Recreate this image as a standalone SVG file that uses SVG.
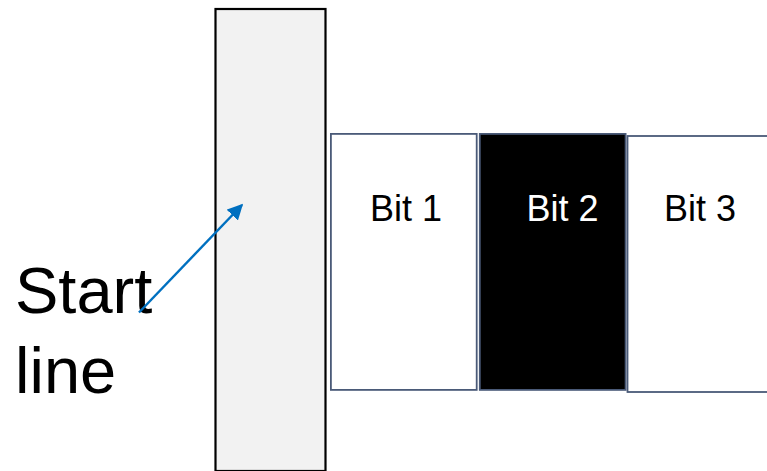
<svg xmlns="http://www.w3.org/2000/svg" width="767" height="471" viewBox="0 0 767 471">
<defs>
<style>
.bit{stroke:#4a5a78;stroke-width:1.8}
.lbl{font-family:"Liberation Sans",Arial,sans-serif;font-size:36px}
.big{font-family:"Liberation Sans",Arial,sans-serif;font-size:65px;fill:#000}
</style>
<marker id="ah" viewBox="0 0 10 10" refX="9" refY="5" markerWidth="6.5" markerHeight="6.5" orient="auto" markerUnits="strokeWidth">
<path d="M0,0 L10,5 L0,10 z" fill="#0070C0"/>
</marker>
</defs>
<rect width="767" height="471" fill="#fff"/>
<g id="startbar"><rect x="215.5" y="9" width="110" height="462" fill="#f2f2f2" stroke="#000" stroke-width="2.2"/></g>
<g id="bit1"><rect class="bit" x="330.9" y="133.9" width="145.8" height="256" fill="#fff"/><text class="lbl" x="370" y="221" fill="#000">Bit 1</text></g>
<g id="bit2"><rect class="bit" x="479.8" y="133.9" width="145.8" height="256" fill="#000"/><text class="lbl" x="526.5" y="221" fill="#fff">Bit 2</text></g>
<g id="bit3"><rect class="bit" x="627.5" y="136" width="145" height="256" fill="#fff"/><text class="lbl" x="664" y="221" fill="#000">Bit 3</text></g>
<g id="label"><text class="big" x="15" y="313">Start</text><text class="big" x="15" y="393">line</text></g>
<g id="connectors"><line x1="139" y1="312.5" x2="242" y2="205" stroke="#0070C0" stroke-width="2.4" marker-end="url(#ah)"/></g>
</svg>
